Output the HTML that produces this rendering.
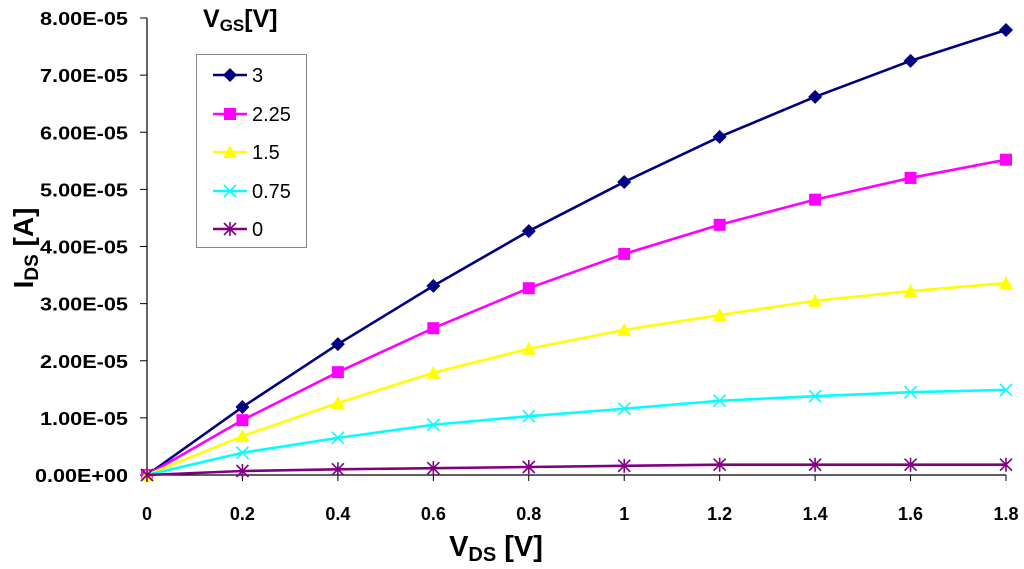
<!DOCTYPE html>
<html><head><meta charset="utf-8"><style>
body{margin:0;background:#fff;}
svg{display:block;font-family:"Liberation Sans",Arial,sans-serif;}
</style></head><body>
<svg id="chart" width="1024" height="569" viewBox="0 0 1024 569">
<g id="axes"></g><g id="series"></g><g id="legend"></g>
</svg>
<script>
const xValues=[0,0.2,0.4,0.6,0.8,1.0,1.2,1.4,1.6,1.8];
const xTickLabels=["0","0.2","0.4","0.6","0.8","1","1.2","1.4","1.6","1.8"];
const yTickLabels=["0.00E+00","1.00E-05","2.00E-05","3.00E-05","4.00E-05","5.00E-05","6.00E-05","7.00E-05","8.00E-05"];
const seriesNames=["3","2.25","1.5","0.75","0"];
const vgs3=[0,1.19e-5,2.29e-5,3.31e-5,4.27e-5,5.13e-5,5.92e-5,6.62e-5,7.25e-5,7.79e-5];
const vgs225=[0,0.96e-5,1.80e-5,2.57e-5,3.27e-5,3.87e-5,4.38e-5,4.82e-5,5.20e-5,5.52e-5];
const vgs15=[0,0.68e-5,1.26e-5,1.79e-5,2.21e-5,2.54e-5,2.80e-5,3.05e-5,3.22e-5,3.36e-5];
const vgs075=[0,0.39e-5,0.65e-5,0.88e-5,1.03e-5,1.16e-5,1.30e-5,1.38e-5,1.45e-5,1.49e-5];
const vgs0=[0,0.07e-5,0.10e-5,0.12e-5,0.14e-5,0.16e-5,0.18e-5,0.18e-5,0.18e-5,0.18e-5];
const colors=["#000080","#ff00ff","#ffff00","#00ffff","#800080"];
const markers=["diamond","square","triangle","x","star"];
const allSeries=[vgs3,vgs225,vgs15,vgs075,vgs0];

const NS="http://www.w3.org/2000/svg";
const X0=147,X1=1006,Y0=475,Y1=18;
const xs=v=>X0+(v-0)/1.8*(X1-X0);
const ys=v=>Y0-(v/8e-5)*(Y0-Y1);
function mk(tag,attrs,parent){const e=document.createElementNS(NS,tag);for(const k in attrs)e.setAttribute(k,attrs[k]);parent.appendChild(e);return e;}
const axes=document.getElementById('axes');
let a=mk('line',{x1:X0,y1:Y1,x2:X0,y2:Y0,stroke:'#000','stroke-width':1.2},axes);


a=mk('line',{x1:X0,y1:Y0,x2:X1,y2:Y0,stroke:'#000','stroke-width':1.2},axes);


yTickLabels.forEach((t,i)=>{const y=ys(i*1e-5);
 mk('line',{x1:X0-7,y1:y,x2:X0,y2:y,stroke:'#000'},axes);
 const e=mk('text',{x:128,y:y+7,'text-anchor':'end','font-size':18,'font-weight':'bold',textLength:(t.indexOf('+')>=0?93:88),lengthAdjust:'spacingAndGlyphs'},axes);e.textContent=t;
 
 });
xTickLabels.forEach((t,i)=>{const x=xs(xValues[i]);
 mk('line',{x1:x,y1:Y0,x2:x,y2:Y0+6,stroke:'#000'},axes);
 const e=mk('text',{x:x,y:520,'text-anchor':'middle','font-size':18,'font-weight':'bold'},axes);e.textContent=t;
 
 });
let tt=mk('text',{x:496,y:556,'text-anchor':'middle','font-size':29,'font-weight':'bold'},axes);
tt.innerHTML='V<tspan font-size="20" dy="5">DS</tspan><tspan dy="-5"> [V]</tspan>';


tt=mk('text',{x:0,y:0,'text-anchor':'middle','font-size':28,'font-weight':'bold',transform:'translate(33,248) rotate(-90)'},axes);
tt.innerHTML='I<tspan font-size="19" dy="5">DS</tspan><tspan dy="-5"> [A]</tspan>';



function marker(type,x,y,c,p){
 if(type==='diamond')mk('polygon',{points:`${x},${y-7} ${x+7},${y} ${x},${y+7} ${x-7},${y}`,fill:c},p);
 else if(type==='square')mk('rect',{x:x-6,y:y-6,width:12,height:12,fill:c},p);
 else if(type==='triangle')mk('polygon',{points:`${x},${y-7} ${x+7},${y+6} ${x-7},${y+6}`,fill:c},p);
 else if(type==='x'){mk('path',{d:`M${x-6} ${y-6}L${x+6} ${y+6}M${x-6} ${y+6}L${x+6} ${y-6}`,stroke:c,'stroke-width':1.6},p);}
 else {mk('path',{d:`M${x-6} ${y-6}L${x+6} ${y+6}M${x-6} ${y+6}L${x+6} ${y-6}M${x} ${y-7}L${x} ${y+7}`,stroke:c,'stroke-width':1.6},p);}
}
const sg=document.getElementById('series');
allSeries.forEach((s,k)=>{
 const g=mk('g',{},sg);
 
 
 mk('polyline',{points:s.map((v,i)=>xs(xValues[i])+','+ys(v)).join(' '),fill:'none',stroke:colors[k],'stroke-width':2.6},g);
 s.forEach((v,i)=>marker(markers[k],xs(xValues[i]),ys(v),colors[k],g));
});
const lg=document.getElementById('legend');
tt=mk('text',{x:203,y:27,'font-size':25,'font-weight':'bold'},lg);
tt.innerHTML='V<tspan font-size="17" dy="4">GS</tspan><tspan dy="-4">[V]</tspan>';


let box=mk('rect',{x:196.5,y:54.5,width:110,height:193,fill:'#fff',stroke:'#888'},lg);


const ly=[75,114,152,191,229];
seriesNames.forEach((n,k)=>{
 const g=mk('g',{},lg);
 
 
 mk('line',{x1:213,y1:ly[k],x2:247,y2:ly[k],stroke:colors[k],'stroke-width':2.6},g);
 marker(markers[k],230,ly[k],colors[k],g);
 const t=mk('text',{x:252,y:ly[k]+7,'font-size':20},g);t.textContent=n;
});
</script>
</body></html>
